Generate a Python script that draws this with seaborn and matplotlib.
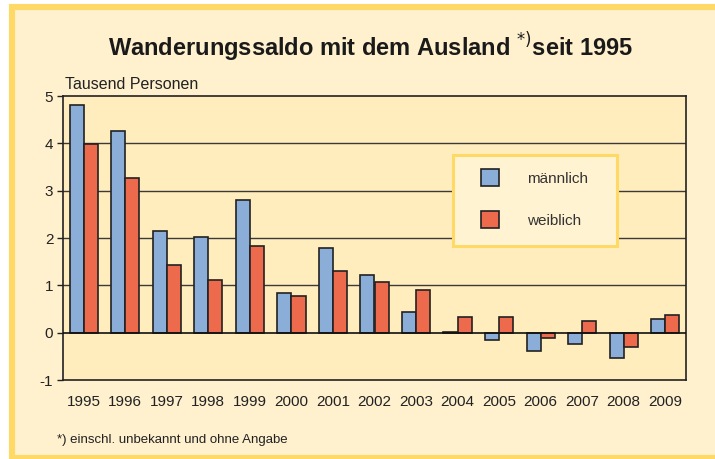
import matplotlib
matplotlib.use("Agg")
import matplotlib.pyplot as plt
import seaborn as sns
import pandas as pd
from matplotlib.patches import Rectangle, Patch

years = [str(y) for y in range(1995, 2010)]
maennlich = [4.80, 4.27, 2.14, 2.03, 2.81, 0.84, 1.79, 1.22, 0.44, 0.01, -0.16, -0.39, -0.23, -0.54, 0.29]
weiblich = [3.98, 3.26, 1.43, 1.11, 1.84, 0.77, 1.31, 1.06, 0.91, 0.34, 0.33, -0.11, 0.24, -0.31, 0.38]
series = ["männlich", "weiblich"]
colors = ["#8BAED8", "#EE6A4C"]

df = pd.DataFrame({
    "Jahr": years * 2,
    "Wert": maennlich + weiblich,
    "Geschlecht": [series[0]] * len(years) + [series[1]] * len(years),
})

sns.set_theme(style="white")
plt.rcParams["font.family"] = ["Liberation Sans", "DejaVu Sans"]

W, H = 715, 459
fig = plt.figure(figsize=(W / 100, H / 100), dpi=100)
fig.patch.set_facecolor("white")
# cream panel with yellow border (cut off at right and bottom)
panel = Rectangle((12 / W, 1 - 458 / H), 715 / W, 451 / H, transform=fig.transFigure,
                  facecolor="#FFF0CE", edgecolor="#FFD966", linewidth=4.4, zorder=-10)
fig.patches.append(panel)

ax = fig.add_axes([63 / W, 1 - 380 / H, 623 / W, 284 / H])
ax.set_zorder(5)
ax.set_facecolor("#FFEDBD")

sns.barplot(data=df, x="Jahr", y="Wert", hue="Geschlecht", palette=colors, ax=ax,
            width=0.68, edgecolor="#222222", linewidth=1.2, saturation=1, legend=False, zorder=3)

ax.set_ylim(-1, 5)
ax.set_xlim(-0.5, len(years) - 0.5)
ax.set_yticks([-1, 0, 1, 2, 3, 4, 5])
ax.set_yticklabels(["-1", "0", "1", "2", "3", "4", "5"])
for v in [1, 2, 3, 4]:
    ax.axhline(v, color="#3a3a3a", linewidth=1.0, zorder=1)
ax.axhline(0, color="#111111", linewidth=1.2, zorder=4)
ax.set_xlabel("")
ax.set_ylabel("")
for s in ax.spines.values():
    s.set_color("#222222")
    s.set_linewidth(1.2)
ax.tick_params(axis="y", which="both", left=True, length=4, width=1, color="#222222",
               labelsize=11, pad=3, labelcolor="#222222")
ax.tick_params(axis="x", bottom=False, labelsize=11, pad=5, labelcolor="#222222")

# legend box
ax.add_patch(Rectangle((0.626, 0.472), 0.263, 0.320, transform=ax.transAxes,
                       facecolor="#FFF3D2", edgecolor="#FFD966", linewidth=2.2, zorder=9))
handles = [Patch(facecolor=colors[0], edgecolor="#222222", linewidth=1.2),
           Patch(facecolor=colors[1], edgecolor="#222222", linewidth=1.2)]
leg = ax.legend(handles, series, loc="upper left", bbox_to_anchor=(0.671, 0.743),
                frameon=False, fontsize=11, handlelength=1.2, handleheight=1.35,
                handletextpad=1.8, labelspacing=1.65, borderpad=0, borderaxespad=0)
for t in leg.get_texts():
    t.set_color("#333333")
leg.set_zorder(10)

fig.text(0.518, 1 - 47 / H, "Wanderungssaldo mit dem Ausland $^{*)}$seit 1995", ha="center", va="center",
         fontsize=17, fontweight="bold", color="#1a1a1a", zorder=6)
fig.text(65 / W, 1 - 85 / H, "Tausend Personen", ha="left", va="center", fontsize=11.5, color="#222222", zorder=6)
fig.text(57 / W, 1 - 440 / H, "*) einschl. unbekannt und ohne Angabe", ha="left", va="center",
         fontsize=9.5, color="#222222", zorder=6)

fig.savefig("out.png", dpi=100, facecolor=fig.get_facecolor())
